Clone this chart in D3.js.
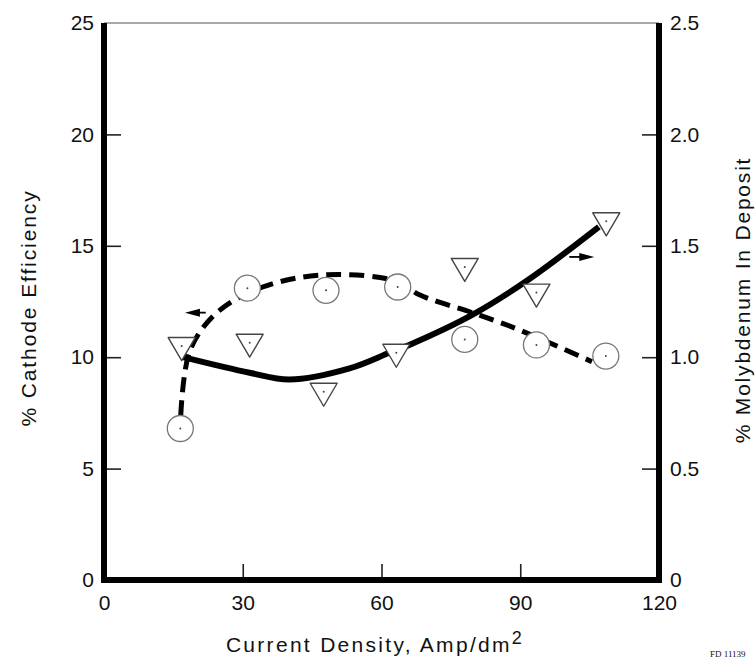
<!DOCTYPE html>
<html>
<head>
<meta charset="utf-8">
<script src="https://cdn.jsdelivr.net/npm/d3@7"></script>
<style>
  body { margin: 0; background: #fff; }
  text { font-family: "Liberation Sans", Arial, sans-serif; fill: #111; }
</style>
</head>
<body>
<svg width="756" height="661"></svg>
<script>
const effX = [16.5, 31, 48, 63.5, 78, 93.5, 108.5];
const effY = [6.8, 13.1, 13.0, 13.15, 10.8, 10.55, 10.05];
const moX = [16.8, 31.5, 47.5, 63.2, 78, 93.5, 108.6];
const moY = [1.05, 1.065, 0.845, 1.02, 1.405, 1.29, 1.61];

// hand-drawn fitted curves
const effFitX = [16.6, 18.6, 24.4, 34.3, 48, 63.5, 68.2, 79.6, 88.3, 101.2, 105.5];
const effFitY = [7.4, 10.3, 12.0, 13.15, 13.7, 13.4, 12.8, 12.0, 11.35, 10.2, 9.8];
const moFitX = [17.1, 31.5, 40.1, 53.1, 61.7, 66, 79.6, 91.9, 107];
const moFitY = [1.0, 0.93, 0.90, 0.95, 1.02, 1.055, 1.19, 1.35, 1.585];

const xTicks = [0, 30, 60, 90, 120];
const yTicks = [0, 5, 10, 15, 20, 25];
const y2Ticks = [0, 0.5, 1.0, 1.5, 2.0, 2.5];

const svg = d3.select("svg");
const margin = {top: 23, right: 97, bottom: 81, left: 104};
const width = 756 - margin.left - margin.right;
const height = 661 - margin.top - margin.bottom;

const x = d3.scaleLinear().domain([0, 120]).range([0, width]);
const y = d3.scaleLinear().domain([0, 25]).range([height, 0]);
const y2 = d3.scaleLinear().domain([0, 2.5]).range([height, 0]);

const g = svg.append("g")
  .attr("transform", `translate(${margin.left},${margin.top})`);

// left axis, ticks pointing inward
const yAxis = g.append("g")
  .call(d3.axisLeft(y).tickValues(yTicks).tickSize(-17).tickSizeOuter(0).tickPadding(10).tickFormat(d3.format("d")));
yAxis.select(".domain").remove();

// right axis
const y2Axis = g.append("g")
  .attr("transform", `translate(${width},0)`)
  .call(d3.axisRight(y2).tickValues(y2Ticks).tickSize(-17).tickSizeOuter(0).tickPadding(11)
    .tickFormat(d => d === 0 ? "0" : d3.format(".1f")(d)));
y2Axis.select(".domain").remove();

// bottom axis
const xAxis = g.append("g")
  .attr("transform", `translate(0,${height})`)
  .call(d3.axisBottom(x).tickValues(xTicks).tickSize(-16).tickSizeOuter(0).tickPadding(12));
xAxis.select(".domain").remove();

[yAxis, y2Axis, xAxis].forEach(a => {
  a.selectAll(".tick line").attr("stroke", "#222").attr("stroke-width", 1.6);
  a.selectAll(".tick text").style("font-size", "21px").attr("fill", "#111");
});
// no tick marks at the frame corners
yAxis.selectAll(".tick line").filter(d => d === 0 || d === 25).remove();
y2Axis.selectAll(".tick line").filter(d => d === 0 || d === 2.5).remove();
xAxis.selectAll(".tick line").filter(d => d === 0 || d === 120).remove();
xAxis.selectAll(".tick text").attr("dy", "0.85em");

// frame: thin top, heavy left/right/bottom
g.append("line").attr("x1", 0).attr("x2", width).attr("y1", 0).attr("y2", 0)
  .attr("stroke", "#555").attr("stroke-width", 1.2);
g.append("path")
  .attr("d", `M0,0V${height}H${width}V0`)
  .attr("fill", "none").attr("stroke", "#000").attr("stroke-width", 6)
  .attr("stroke-linejoin", "miter");

// fitted curves
const effLine = d3.line().x(d => x(d[0])).y(d => y(d[1])).curve(d3.curveCatmullRom);
const moLine = d3.line().x(d => x(d[0])).y(d => y2(d[1])).curve(d3.curveCatmullRom);

g.append("path")
  .datum(effFitX.map((v, i) => [v, effFitY[i]]))
  .attr("d", effLine)
  .attr("fill", "none").attr("stroke", "#000").attr("stroke-width", 5)
  .attr("stroke-dasharray", "15,8");

g.append("path")
  .datum(moFitX.map((v, i) => [v, moFitY[i]]))
  .attr("d", moLine)
  .attr("fill", "none").attr("stroke", "#000").attr("stroke-width", 6);

// circles: cathode efficiency
const circ = g.selectAll(".eff")
  .data(effX.map((v, i) => [v, effY[i]]))
  .enter().append("g")
  .attr("class", "eff")
  .attr("transform", d => `translate(${x(d[0])},${y(d[1])})`);
circ.append("circle").attr("r", 13).attr("fill", "#fff").attr("stroke", "#777").attr("stroke-width", 1.3);
circ.append("circle").attr("r", 1).attr("fill", "#444");

// triangles: molybdenum
const tri = g.selectAll(".mo")
  .data(moX.map((v, i) => [v, moY[i]]))
  .enter().append("g")
  .attr("class", "mo")
  .attr("transform", d => `translate(${x(d[0])},${y2(d[1])})`);
tri.append("path").attr("d", "M-13.5,-8.5L13.5,-8.5L0,14.5Z")
  .attr("fill", "#fff").attr("stroke", "#444").attr("stroke-width", 1.4).attr("stroke-linejoin", "round");
tri.append("circle").attr("r", 1).attr("fill", "#444");

// arrows telling which axis each curve reads on
function arrow(x0, x1, yy) {
  const dir = Math.sign(x1 - x0);
  g.append("line").attr("x1", x0).attr("x2", x1 - dir * 10).attr("y1", yy).attr("y2", yy)
    .attr("stroke", "#000").attr("stroke-width", 1.8);
  g.append("path")
    .attr("d", `M${x1},${yy}L${x1 - dir * 15},${yy - 4}L${x1 - dir * 15},${yy + 4}Z`)
    .attr("fill", "#000");
}
arrow(x(22), x(17.5), y(12.0));
arrow(x(100.6), x(106), y2(1.45));

// axis titles
svg.append("text")
  .attr("transform", `translate(29,308) rotate(-90)`)
  .attr("text-anchor", "middle").attr("dy", "0.35em")
  .style("font-size", "21px").style("letter-spacing", "1.9px")
  .text("% Cathode Efficiency");

svg.append("text")
  .attr("transform", `translate(743,300) rotate(-90)`)
  .attr("text-anchor", "middle").attr("dy", "0.35em")
  .style("font-size", "21px").style("letter-spacing", "1.8px")
  .text("% Molybdenum In Deposit");

const xt = svg.append("text")
  .attr("x", 375).attr("y", 652)
  .attr("text-anchor", "middle")
  .style("font-size", "21px").style("letter-spacing", "2.3px");
xt.append("tspan").text("Current Density, Amp/dm");
xt.append("tspan").attr("dy", -8).style("font-size", "18px").text("2");

svg.append("text")
  .attr("x", 710).attr("y", 657)
  .style("font-family", "'Liberation Serif', serif").style("font-size", "9px")
  .attr("fill", "#333")
  .text("FD 11139");
</script>
</body>
</html>
